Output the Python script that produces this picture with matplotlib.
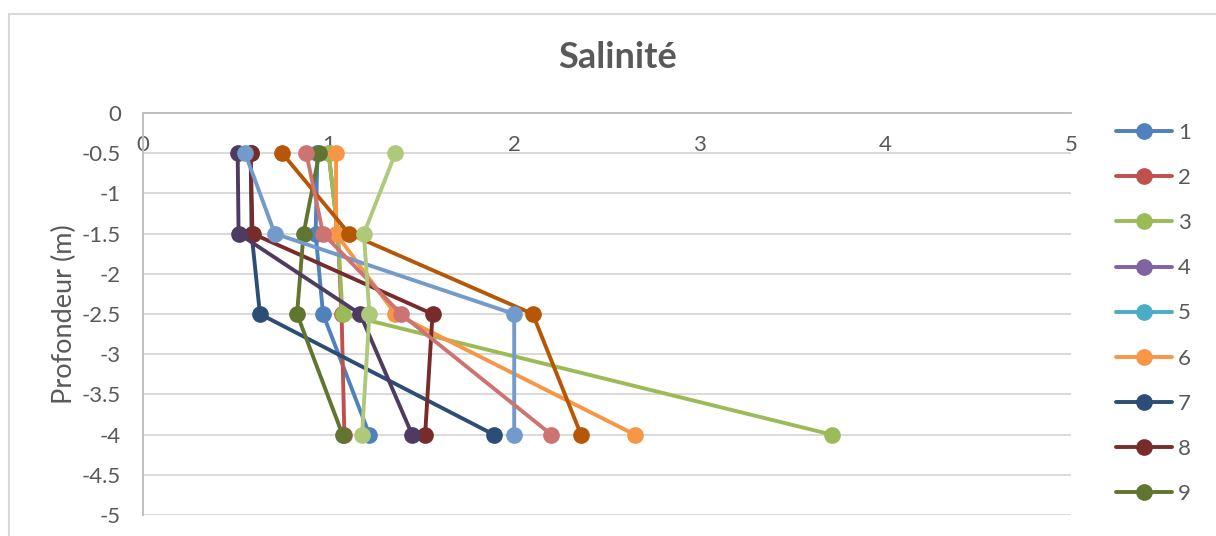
import numpy as np
import matplotlib
matplotlib.use("Agg")
import matplotlib.pyplot as plt
from matplotlib.patches import Rectangle

plt.rcParams["font.family"] = ["Lato", "DejaVu Sans"]
plt.rcParams["axes.unicode_minus"] = False

# depth of each sampling level (m)
depths = [-0.5, -1.5, -2.5, -4.0]

# salinity per station, one value per depth level (nan = no data)
nan = np.nan
stations = [str(i) for i in range(1, 16)]
salinity = {
    "1": [0.94, 0.93, 0.97, 1.22],
    "2": [1.00, 1.05, 1.07, 1.085],
    "3": [1.00, 1.05, 1.075, 3.71],
    "4": [nan, nan, nan, nan],
    "5": [nan, nan, nan, nan],
    "6": [1.04, 1.04, 1.36, 2.65],
    "7": [0.58, 0.585, 0.63, 1.89],
    "8": [0.58, 0.59, 1.56, 1.52],
    "9": [0.95, 0.865, 0.83, 1.075],
    "10": [0.51, 0.515, 1.17, 1.45],
    "11": [nan, nan, nan, nan],
    "12": [0.75, 1.11, 2.10, 2.36],
    "13": [0.55, 0.71, 2.00, 2.00],
    "14": [0.88, 0.97, 1.39, 2.20],
    "15": [1.36, 1.19, 1.22, 1.18],
}
colors = ["#4F81BD", "#C0504D", "#9BBB59", "#8064A2", "#4BACC6",
          "#F79646", "#2C4D75", "#772C2A", "#5F7530", "#4D3B62",
          "#276A7C", "#B65708", "#729ACA", "#CD7371", "#AFC97A"]

x_ticks = [0, 1, 2, 3, 4, 5]
y_ticks = [0, -0.5, -1, -1.5, -2, -2.5, -3, -3.5, -4, -4.5, -5]
y_tick_labels = ["0", "-0.5", "-1", "-1.5", "-2", "-2.5", "-3", "-3.5", "-4", "-4.5", "-5"]

text_color = "#595959"
grid_color = "#D9D9D9"
axis_color = "#BFBFBF"

fig = plt.figure(figsize=(12.16, 5.36), dpi=100)
# chart frame, runs off the right and bottom edges
fig.patches.append(Rectangle((9 / 1216, -0.1), 1.2, 1.1 - 14 / 536,
                             transform=fig.transFigure, fill=False,
                             edgecolor=grid_color, linewidth=1.5))
ax = fig.add_axes([143 / 1216, 21 / 536, 928 / 1216, 402 / 536])

lines = []
for name, col in zip(stations, colors):
    ln, = ax.plot(salinity[name], depths, color=col, linewidth=2.8, marker="o",
                  markersize=11, label=name, solid_capstyle="round")
    lines.append(ln)

ax.set_xlim(0, 5)
ax.set_ylim(-5, 0)
ax.set_xticks(x_ticks)
ax.set_xticklabels([str(v) for v in x_ticks])
ax.set_yticks(y_ticks)
ax.set_yticklabels(y_tick_labels)
ax.xaxis.set_ticks_position("top")
ax.tick_params(axis="x", length=0, pad=-30, labelsize=16, colors=text_color)
ax.tick_params(axis="y", length=0, pad=16, labelsize=16, colors=text_color)

ax.yaxis.grid(True, color=grid_color, linewidth=1.4)
ax.set_axisbelow(True)
for side in ["right", "bottom"]:
    ax.spines[side].set_visible(False)
ax.spines["top"].set_color(axis_color)
ax.spines["left"].set_color(axis_color)
ax.spines["top"].set_linewidth(1.4)
ax.spines["left"].set_linewidth(1.4)

ax.set_ylabel("Profondeur (m)", fontsize=19.5, color=text_color, labelpad=3)
fig.text(618 / 1216, 1 - 58 / 536, "Salinité", ha="center", va="center",
         fontsize=26, fontweight="bold", color=text_color)

# only the entries that fit in the chart frame are listed
fig.legend(handles=lines[:9], loc="upper left",
           bbox_to_anchor=(1116 / 1216, 1 - 123 / 536),
           frameon=False, fontsize=16, labelcolor=text_color,
           handlelength=2.5, handletextpad=0.3, labelspacing=1.13,
           borderpad=0, borderaxespad=0)

fig.savefig("out.png", dpi=100)
